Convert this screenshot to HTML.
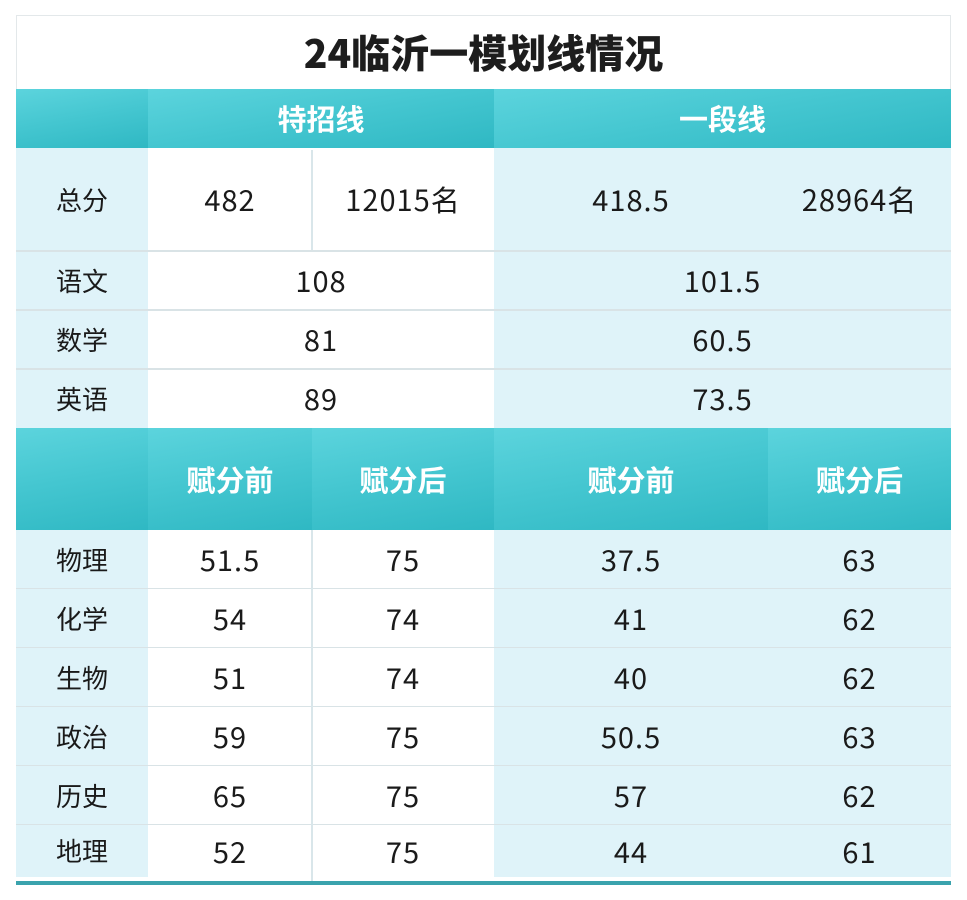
<!DOCTYPE html><html><head><meta charset="utf-8"><style>
body{margin:0;width:967px;height:900px;background:#fff;position:relative;font-family:"Noto Sans CJK SC",sans-serif;overflow:hidden}
.c{position:absolute;display:flex;align-items:center;justify-content:center;box-sizing:border-box;color:#1a1a1a;font-size:29px;letter-spacing:1px;line-height:1}
.h{background:linear-gradient(170deg,#5cd4dd 0%,#44c6d0 50%,#2fb8c3 100%);color:#fff;font-weight:bold;font-size:29px;letter-spacing:0}
.lb{background:#dff3f9;font-size:26px;letter-spacing:0}
.w{background:#fff}
.b{background:#dff3f9}
.line{position:absolute;height:2px;background:#d9e3e6}
.v{position:absolute;width:2px;background:#d9e6ea}
</style></head><body>
<div class="c" style="left:16px;top:15px;width:935px;height:74px;border:1px solid #e3e8ea;border-bottom:none;font-size:39px;font-weight:900;color:#1d1d1d;letter-spacing:0">24临沂一模划线情况</div>
<div class="c h" style="left:16px;top:89px;width:132px;height:59px"></div>
<div class="c h" style="left:148px;top:89px;width:346px;height:59px">特招线</div>
<div class="c h" style="left:494px;top:89px;width:457px;height:59px">一段线</div>

<div class="c lb" style="left:16px;top:148px;width:132px;height:103px">总分</div>
<div class="c w" style="left:148px;top:148px;width:164px;height:103px">482</div>
<div class="c w" style="left:312px;top:148px;width:182px;height:103px">12015名</div>
<div class="c b" style="left:494px;top:148px;width:274px;height:103px">418.5</div>
<div class="c b" style="left:768px;top:148px;width:183px;height:103px">28964名</div>

<div class="c lb" style="left:16px;top:251px;width:132px;height:59px">语文</div>
<div class="c w" style="left:148px;top:251px;width:346px;height:59px">108</div>
<div class="c b" style="left:494px;top:251px;width:457px;height:59px">101.5</div>
<div class="c lb" style="left:16px;top:310px;width:132px;height:59px">数学</div>
<div class="c w" style="left:148px;top:310px;width:346px;height:59px">81</div>
<div class="c b" style="left:494px;top:310px;width:457px;height:59px">60.5</div>
<div class="c lb" style="left:16px;top:369px;width:132px;height:59px">英语</div>
<div class="c w" style="left:148px;top:369px;width:346px;height:59px">89</div>
<div class="c b" style="left:494px;top:369px;width:457px;height:59px">73.5</div>

<div class="c h" style="left:16px;top:428px;width:132px;height:102px"></div>
<div class="c h" style="left:148px;top:428px;width:164px;height:102px">赋分前</div>
<div class="c h" style="left:312px;top:428px;width:182px;height:102px">赋分后</div>
<div class="c h" style="left:494px;top:428px;width:274px;height:102px">赋分前</div>
<div class="c h" style="left:768px;top:428px;width:183px;height:102px">赋分后</div>

<div id="rows"></div>
<script>
var d=[["物理","51.5","75","37.5","63"],["化学","54","74","41","62"],["生物","51","74","40","62"],["政治","59","75","50.5","63"],["历史","65","75","57","62"],["地理","52","75","44","61"]];
var h="";d.forEach(function(r,i){var t=530+i*59,hh=(i==5?52:59);
h+='<div class="c lb" style="left:16px;top:'+t+'px;width:132px;height:'+hh+'px">'+r[0]+'</div>';
h+='<div class="c w" style="left:148px;top:'+t+'px;width:164px;height:'+hh+'px">'+r[1]+'</div>';
h+='<div class="c w" style="left:312px;top:'+t+'px;width:182px;height:'+hh+'px">'+r[2]+'</div>';
h+='<div class="c b" style="left:494px;top:'+t+'px;width:274px;height:'+hh+'px">'+r[3]+'</div>';
h+='<div class="c b" style="left:768px;top:'+t+'px;width:183px;height:'+hh+'px">'+r[4]+'</div>';
if(i<5)h+='<div class="line" style="left:16px;top:'+(t+58)+'px;width:935px"></div>';});
document.getElementById("rows").innerHTML=h;
</script>
<div class="line" style="left:16px;top:250px;width:935px"></div>
<div class="line" style="left:16px;top:309px;width:935px"></div>
<div class="line" style="left:16px;top:368px;width:935px"></div>
<div class="v" style="left:311px;top:150px;height:100px"></div>
<div class="v" style="left:311px;top:530px;height:352px"></div>
<div style="position:absolute;left:16px;top:881px;width:935px;height:4px;background:#3aa3ad"></div>
</body></html>
